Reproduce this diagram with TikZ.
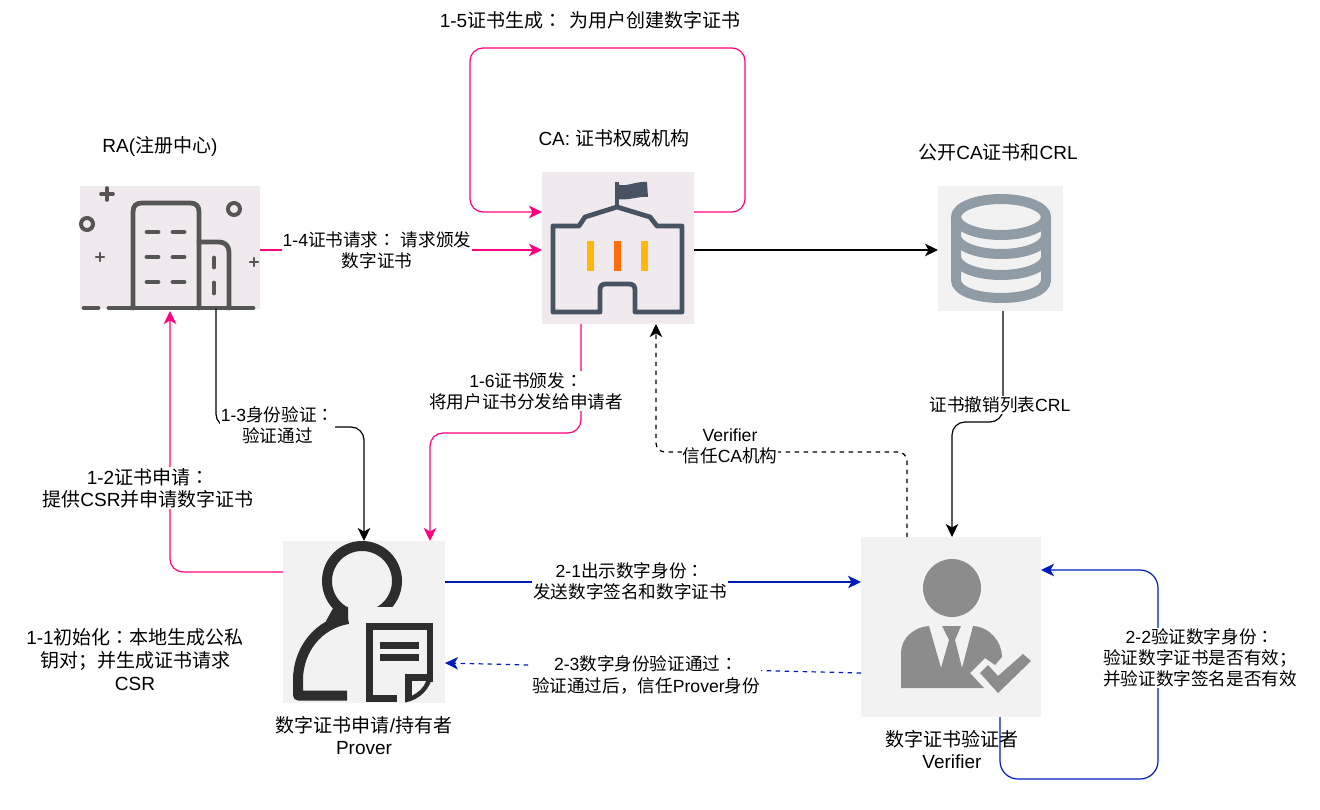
\documentclass[tikz,border=0pt]{standalone}
\usepackage{fontspec}
\setmainfont{Liberation Sans}
\newfontfamily\cjk{Noto Sans CJK SC}
\newfontfamily\cjktc{Noto Sans CJK TC}
\newcommand{\zh}[1]{{\cjk #1}}
% full-width colon, centred in its cell
\newcommand{\fcolon}{{\cjktc ：}}
\usetikzlibrary{arrows.meta}
\definecolor{pinkline}{HTML}{FF0080}
\definecolor{blueline}{HTML}{001DBC}
\definecolor{warmbg}{HTML}{F0EAEE}
\definecolor{coolbg}{HTML}{F2F2F2}
\definecolor{cityink}{HTML}{555555}
\definecolor{schoolink}{HTML}{475362}
\definecolor{dbink}{HTML}{8F9BA5}
\definecolor{userink}{HTML}{2D2D2D}
\definecolor{agentink}{HTML}{8C8C8C}
\definecolor{barorange}{HTML}{FF6D0A}
\definecolor{baryellow}{HTML}{FFB70A}
\tikzset{
  panel/.style={inner sep=0pt,outer sep=0pt,draw=none},
  wire/.style={line width=1.2pt,rounded corners=13pt,-{Stealth[length=13pt,width=12.5pt,inset=3.5pt]}},
  pinkwire/.style={wire,draw=pinkline},
  blackwire/.style={wire,draw=black},
  bluewire/.style={wire,draw=blueline},
  dashwire/.style={dash pattern=on 4.5pt off 4.5pt},
  lbl/.style={align=center,inner sep=1pt,font=\fontsize{17.6}{21.2}\selectfont},
  lblbg/.style={lbl,fill=white},
  biglbl/.style={align=center,inner sep=1pt,font=\fontsize{19}{22}\selectfont},
  title/.style={align=center,inner sep=0pt,font=\fontsize{19}{22}\selectfont},
  cityline/.style={draw=cityink,line width=4.8pt,line cap=round,line join=round},
  schoolline/.style={draw=schoolink,line width=4.8pt,line cap=round,line join=round},
  dbline/.style={draw=dbink,line width=10pt},
  userline/.style={draw=userink,line width=10pt},
  docline/.style={draw=userink,line width=6.6pt},
}
\begin{document}
\begin{tikzpicture}[x=1pt,y=-1pt]
\useasboundingbox (0,0) rectangle (1320,810);

% panels behind the icons
\node[panel,fill=warmbg,minimum width=180pt,minimum height=123pt] (ra) at (170,247.5) {};
\node[panel,fill=warmbg,minimum width=152pt,minimum height=152pt] (ca) at (618,248) {};
\node[panel,fill=coolbg,minimum width=125pt,minimum height=125pt] (db) at (1000.5,248.5) {};
\node[panel,fill=coolbg,minimum width=162pt,minimum height=162pt] (prover) at (364,622) {};
\node[panel,fill=coolbg,minimum width=180pt,minimum height=180pt] (verifier) at (951,627) {};

% registration authority: office buildings
\draw[cityline] (133,308) -- (133,212) .. controls (133,206) and (136,203) .. (142,203)
  -- (190,203) .. controls (196,203) and (199,206) .. (199,212) -- (199,308);
\draw[cityline] (199,242) -- (219,242) .. controls (225,242) and (229,246) .. (229,252) -- (229,308);
\draw[cityline] (109,308) -- (253,308);
\draw[cityline] (84,308) -- (98,308);
\foreach \wy in {232,257,282} {
  \draw[cityline] (147,\wy) -- (158,\wy);
  \draw[cityline] (173,\wy) -- (184,\wy);
}
\draw[cityline] (214,258) -- (214,267);
\draw[cityline] (214,283) -- (214,293);
\draw[cityink,line width=4pt] (87,224) circle (6pt);
\draw[cityink,line width=4pt] (234,209) circle (6pt);
\draw[cityink,line width=3.6pt,line cap=round] (101,194) -- (113,194) (107,188) -- (107,200);
\draw[cityink,line width=2.6pt,line cap=round] (96,257) -- (104,257) (100,253) -- (100,261);
\draw[cityink,line width=2.6pt,line cap=round] (250,262) -- (258,262) (254,258) -- (254,266);

% certificate authority: school with flag
\draw[schoolline] (600,312) -- (553,312) -- (553,226) -- (579,226) -- (585,217) -- (617,207)
  -- (650,217) -- (657,226) -- (682,226) -- (682,312) -- (635,312) -- (635,290)
  .. controls (635,286) and (633,284) .. (629,284) -- (606,284)
  .. controls (602,284) and (600,286) .. (600,290) -- cycle;
\draw[schoolink,line width=3.6pt] (617,207) -- (617,182);
\fill[schoolink] (617,184) .. controls (625,188) and (635,181) .. (647,182)
  -- (648,197) .. controls (638,196) and (628,201) .. (617,199) -- cycle;
\fill[baryellow] (587,241) rectangle (594,271);
\fill[barorange] (614,241) rectangle (621,271);
\fill[baryellow] (641,241) rectangle (648,271);

% repository: database cylinder
\draw[dbline] (1001,217) ellipse (45pt and 18pt);
\draw[dbline] (956,217) -- (956,280) .. controls (956,291) and (976,298) .. (1001,298)
  .. controls (1026,298) and (1046,291) .. (1046,280) -- (1046,217);
\draw[dbline] (956,237) .. controls (958,247) and (978,254) .. (1001,254)
  .. controls (1024,254) and (1044,247) .. (1046,237);
\draw[dbline] (956,258) .. controls (958,268) and (978,275) .. (1001,275)
  .. controls (1024,275) and (1044,268) .. (1046,258);

% applicant: person with a document
\draw[userline] plot[domain=60:-235,samples=60] ({362+35*cos(\x)},{581+35*sin(\x)});
\fill[coolbg] (372,607.3) rectangle (406,622);
\fill[userink] (336,603) -- (348,607) -- (348,624) -- (326,621) -- cycle;
\draw[userline,line join=round] (348,619) .. controls (318,624) and (298,650) .. (298,680)
  -- (298,695.5) -- (347,695.5);
\draw[docline] (397,698.7) -- (369.3,698.7) -- (369.3,626.3) -- (430,626.3) -- (430,682);
\fill[userink] (380,642) rectangle (419,648.5);
\fill[userink] (380,654) rectangle (419,661);
\fill[userink] (405,674) -- (433,674) .. controls (431,688) and (420,700) .. (405,702.5) -- cycle;
\fill[coolbg] (412,681) -- (426,681) .. controls (424,687) and (419,692) .. (412,695.5) -- cycle;

% verifier: person in a suit with a check mark
\fill[agentink] (952,588) circle (29pt);
\fill[agentink] (901,688) -- (901,653) .. controls (901,638) and (914,627) .. (929,626)
  -- (941,668) -- (949,640) -- (942,626) -- (961,626) -- (955,640) -- (962,668) -- (973,626)
  .. controls (990,627) and (1002,642) .. (1002,657) -- (995,665) -- (985,658) -- (970,673)
  -- (984,688) -- cycle;
\fill[agentink] (980,673) -- (988,665) -- (998,676) -- (1023,654) -- (1031,661) -- (998,693) -- cycle;

% panel captions
\node[title] (catitle) at (614,138) {CA: \zh{证书权威机构}};
\node[title] (ratitle) at (160,146) {RA(\zh{注册中心})};
\node[title] (dbtitle) at (998,152) {\zh{公开}CA\zh{证书和}CRL};
\node[title] (provertitle) at (364,736) {\zh{数字证书申请}/\zh{持有者}\\Prover};
\node[title] (verifiertitle) at (952,750) {\zh{数字证书验证者}\\Verifier};

% certificate issuing flow
\draw[pinkwire] (prover.west |- 0,572) -- (170,572) -- (170,311);
\draw[blackwire] (216,0 |- ra.south) -- (216,427) -- (364,427) -- (364,0 |- prover.north);
\draw[pinkwire] (ra.east |- 0,250) -- (ca.west |- 0,250);
\draw[pinkwire] (ca.east |- 0,212) -- (745,212) -- (745,48) -- (470,48) -- (470,212) -- (ca.west |- 0,212);
\draw[pinkwire] (581,0 |- ca.south) -- (581,433) -- (430,433) -- (430,0 |- prover.north);
\draw[blackwire] (ca.east |- 0,250) -- (db.west |- 0,250);
\draw[blackwire] (1003,0 |- db.south) -- (1003,422) -- (952,422) -- (952,0 |- verifier.north);
\draw[blackwire,dashwire,rounded corners=9pt] (907,0 |- verifier.north) -- (907,452) -- (656,452) -- (656,0 |- ca.south);

% proof and verification flow
\draw[bluewire] (prover.east |- 0,582) -- (verifier.west |- 0,582);
\draw[bluewire,dashwire] (verifier.west |- 0,673) -- (prover.east |- 0,663);
\draw[bluewire,rounded corners=18pt] (1000,0 |- verifier.south) -- (1000,779) -- (1158,779) -- (1158,570) -- (verifier.east |- 0,570);

% step labels
\node[biglbl] (s15) at (590,20) {1-5\zh{证书生成}\fcolon\hspace{7pt}\zh{为用户创建数字证书}};
\node[lblbg] (s14) at (377,250.5) {1-4\zh{证书请求}\fcolon{} \zh{请求颁发}\\\zh{数字证书}};
\node[lblbg] (s16) at (526,391) {1-6\zh{证书颁发}\fcolon\\\zh{将用户证书分发给申请者}};
\node[lblbg] (s13) at (277.5,425) {1-3\zh{身份验证}\fcolon\\\zh{验证通过}};
\node[lblbg,font=\fontsize{19}{22}\selectfont] (s12) at (148,488) {1-2\zh{证书申请}\fcolon\\\zh{提供}CSR\zh{并申请数字证书}};
\node[lblbg] (crl) at (1000,405) {\zh{证书撤销列表}CRL};
\node[lblbg] (trust) at (730,446) {Verifier\\\zh{信任}CA\zh{机构}};
\node[lblbg] (s21) at (630,581) {2-1\zh{出示数字身份}\fcolon\\\zh{发送数字签名和数字证书}};
\node[lblbg] (s23) at (646,675) {2-3\zh{数字身份验证通过}\fcolon\\\zh{验证通过后，信任}Prover\zh{身份}};
\node[lblbg] (s22) at (1200,658) {2-2\zh{验证数字身份}\fcolon\\\zh{验证数字证书是否有效；}\\\zh{并验证数字签名是否有效}};
\node[biglbl,font=\fontsize{19}{23}\selectfont] (s11) at (135,660) {1-1\zh{初始化}\fcolon\zh{本地生成公私}\\\zh{钥对；并生成证书请求}\\CSR};
\end{tikzpicture}
\end{document}
